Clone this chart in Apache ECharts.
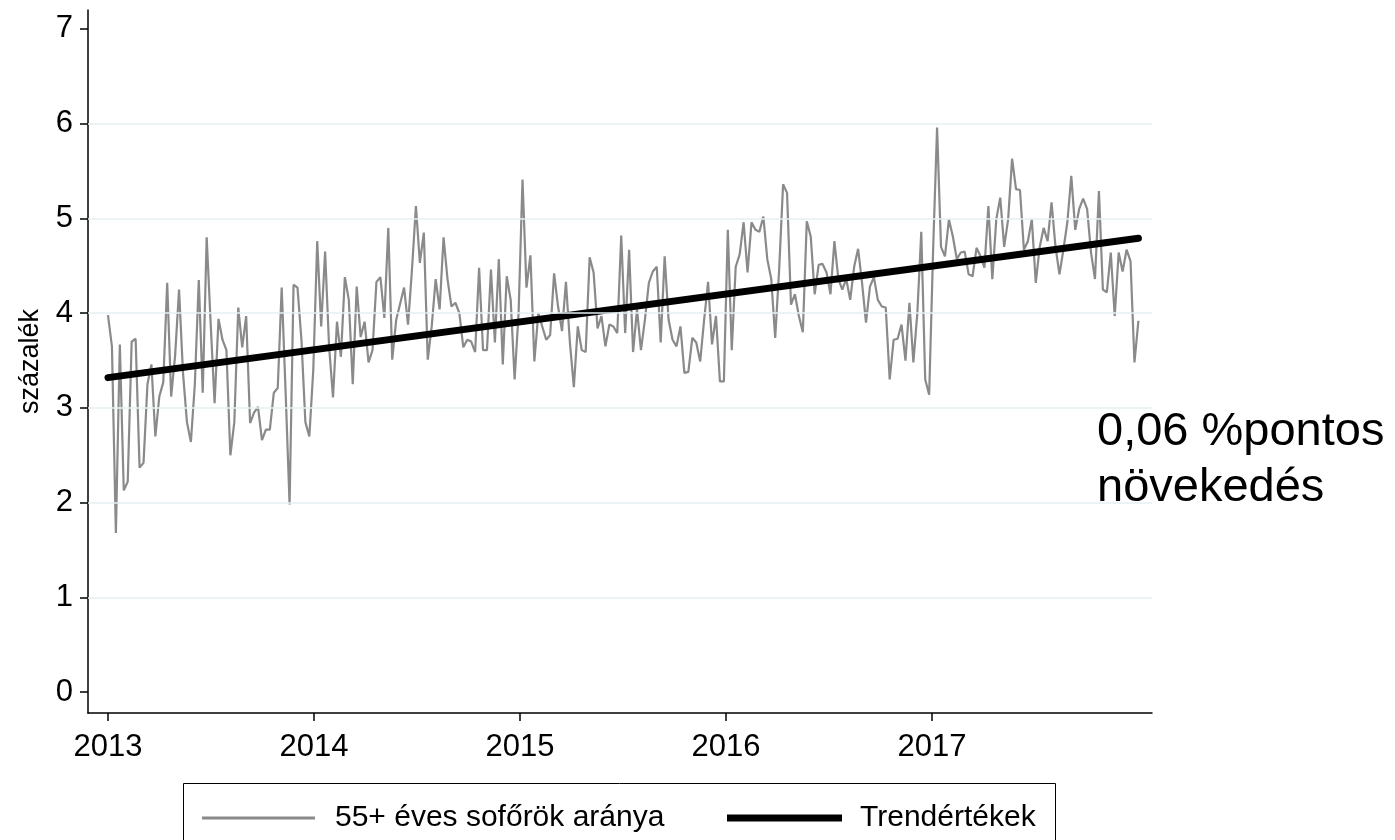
<!DOCTYPE html>
<html>
<head>
<meta charset="utf-8">
<script src="https://cdn.jsdelivr.net/npm/echarts@6/dist/echarts.min.js"></script>
<style>
  html, body { margin: 0; padding: 0; background: #fff; }
  #chart { width: 1395px; height: 840px; }
</style>
</head>
<body>
<div id="chart"></div>
<script>
/* global echarts */
// heti arány, 2013 első hetétől
var aranyok = [
  3.98, 3.65, 1.68, 3.67, 2.13, 2.22, 3.70, 3.73, 2.37, 2.42, 3.25, 3.46, 2.70, 3.12, 3.27, 4.32,
  3.12, 3.55, 4.25, 3.37, 2.85, 2.64, 3.25, 4.35, 3.16, 4.80, 3.90, 3.05, 3.94, 3.72, 3.61, 2.50,
  2.85, 4.06, 3.64, 3.97, 2.84, 2.95, 3.01, 2.66, 2.77, 2.77, 3.16, 3.21, 4.27, 3.16, 1.98, 4.30,
  4.27, 3.72, 2.85, 2.70, 3.40, 4.76, 3.86, 4.65, 3.65, 3.11, 3.91, 3.54, 4.38, 4.14, 3.25, 4.28,
  3.75, 3.91,
  3.48, 3.61, 4.33, 4.38, 3.95, 4.90, 3.51, 3.93, 4.10, 4.27, 3.88, 4.46, 5.13, 4.53, 4.85, 3.51,
  3.86, 4.36, 4.04, 4.80, 4.36, 4.07, 4.11, 4.00, 3.64, 3.72, 3.70, 3.59, 4.48, 3.61, 3.61, 4.46,
  3.69, 4.57, 3.46, 4.39, 4.14, 3.30, 4.00, 5.41, 4.27, 4.61, 3.49, 4.00, 3.86, 3.72, 3.77, 4.42,
  4.07, 3.81, 4.33, 3.69, 3.22, 3.86, 3.61, 3.59, 4.59, 4.43, 3.84, 3.97, 3.65, 3.88, 3.86, 3.79,
  4.82, 3.79,
  4.67, 3.59, 4.04, 3.61, 3.93, 4.32, 4.44, 4.49, 3.69, 4.60, 3.93, 3.72, 3.65, 3.86, 3.37, 3.38,
  3.74, 3.69, 3.49, 3.93, 4.33, 3.67, 3.97, 3.28, 3.28, 4.88, 3.61, 4.49, 4.62, 4.96, 4.43, 4.96,
  4.88,
  4.86, 5.02, 4.57, 4.36, 3.74, 4.46, 5.36, 5.27, 4.09, 4.20, 3.97, 3.80, 4.97, 4.81, 4.20, 4.51,
  4.52, 4.43, 4.20, 4.76, 4.36, 4.25, 4.36, 4.14, 4.49, 4.68, 4.32, 3.90, 4.28, 4.38, 4.14, 4.07,
  4.06,
  3.30, 3.72, 3.73, 3.88, 3.50, 4.11, 3.48, 4.00, 4.86, 3.30, 3.14, 4.67, 5.96, 4.70, 4.60, 4.99,
  4.81, 4.57, 4.64, 4.65, 4.41, 4.39, 4.69, 4.60, 4.48, 5.13, 4.36, 4.99, 5.22, 4.70, 4.99, 5.63,
  5.31, 5.30,
  4.67, 4.76, 4.99, 4.32, 4.70, 4.90, 4.76, 5.17, 4.70, 4.41, 4.67, 4.96, 5.45, 4.88, 5.10, 5.21,
  5.10, 4.64, 4.36, 5.29, 4.25, 4.22, 4.64, 3.97, 4.64, 4.44, 4.67, 4.55, 3.48, 3.92
];
var kezdoEv = 2013;
var trendKezdet = 3.32;
var trendVeg = 4.79;
var evek = [2013, 2014, 2015, 2016, 2017];
var yTickek = [0, 1, 2, 3, 4, 5, 6, 7];
var racsVonalak = [1, 2, 3, 4, 5, 6];

var fo = 'Liberation Sans';

// heti pontok
var adat = aranyok.map(function (v, i) {
    return [kezdoEv + i * 7 / 365.25, v];
});
var utolsoX = adat[adat.length - 1][0];
var trend = [[kezdoEv, trendKezdet], [utolsoX, trendVeg]];

var myChart = echarts.init(document.getElementById('chart'));
var option = {
    animation: false,
    backgroundColor: '#fff',
    grid: { left: 88, right: 243, top: 10, bottom: 127 },
    legend: [
        {
            left: 197,
            top: 798,
            icon: 'rect',
            itemWidth: 113,
            itemHeight: 3,
            textStyle: { fontFamily: fo, fontSize: 30, lineHeight: 30, color: '#000', padding: [0, 0, 0, 15] },
            data: ['55+ éves sofőrök aránya']
        },
        {
            left: 722,
            top: 798,
            icon: 'rect',
            itemWidth: 115,
            itemHeight: 7,
            textStyle: { fontFamily: fo, fontSize: 30, lineHeight: 30, color: '#000', padding: [0, 0, 0, 13] },
            data: ['Trendértékek']
        }
    ],
    xAxis: {
        type: 'value',
        min: 2012.903,
        max: 2018.068,
        axisLine: { onZero: false, lineStyle: { color: '#000', width: 1.5 } },
        axisTick: { length: 8, lineStyle: { color: '#000', width: 1.5 }, customValues: evek },
        axisLabel: {
            customValues: evek,
            margin: 19,
            formatter: function (v) { return String(v); },
            fontFamily: fo, fontSize: 31, color: '#000'
        },
        splitLine: { show: false }
    },
    yAxis: {
        type: 'value',
        min: -0.22,
        max: 7.2,
        name: 'százalék',
        nameLocation: 'middle',
        nameGap: 44,
        nameTextStyle: { fontFamily: fo, fontSize: 27, color: '#000' },
        axisLine: { show: true, onZero: false, lineStyle: { color: '#000', width: 1.5 } },
        axisTick: { show: true, length: 8, lineStyle: { color: '#000', width: 1.5 }, customValues: yTickek },
        axisLabel: {
            customValues: yTickek,
            margin: 15,
            fontFamily: fo, fontSize: 31, color: '#000'
        },
        splitLine: { show: false }
    },
    graphic: [
        {
            type: 'text',
            left: 1097,
            top: 404,
            style: {
                text: '0,06 %pontos\nnövekedés',
                fontFamily: fo,
                fontSize: 47,
                lineHeight: 56,
                fill: '#000'
            }
        },
        {
            type: 'rect',
            shape: { x: 183.5, y: 783.5, width: 872, height: 60 },
            style: { fill: 'none', stroke: '#000', lineWidth: 1 }
        }
    ],
    series: [
        {
            name: '55+ éves sofőrök aránya',
            type: 'line',
            data: adat,
            showSymbol: false,
            symbol: 'none',
            lineStyle: { color: '#8a8a8a', width: 2.2 },
            itemStyle: { color: '#8a8a8a' },
            markLine: {
                silent: true,
                symbol: 'none',
                label: { show: false },
                lineStyle: { color: '#e6eff1', width: 1.5, type: 'solid' },
                data: racsVonalak.map(function (v) { return { yAxis: v }; })
            },
            z: 2
        },
        {
            name: 'Trendértékek',
            type: 'line',
            data: trend,
            showSymbol: false,
            symbol: 'none',
            lineStyle: { color: '#000', width: 7, cap: 'round' },
            itemStyle: { color: '#000' },
            z: 3
        }
    ]
};
myChart.setOption(option);
</script>
</body>
</html>
